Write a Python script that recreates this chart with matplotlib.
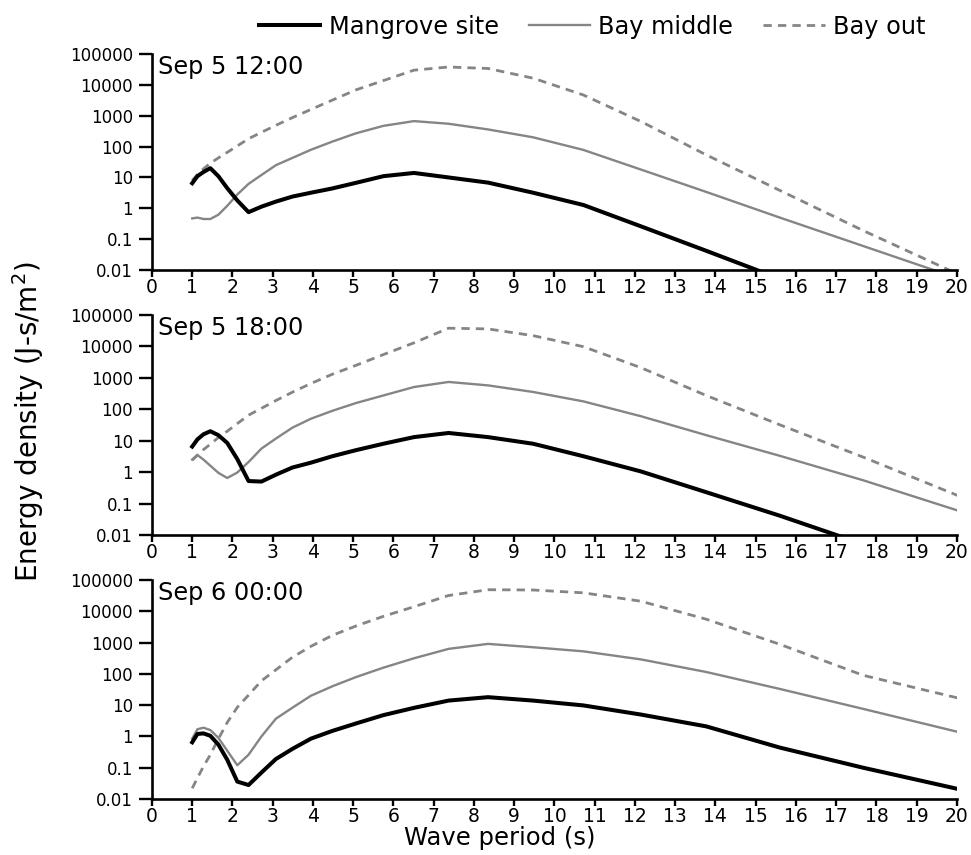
import numpy as np
import matplotlib
matplotlib.use('Agg')
import matplotlib.pyplot as plt
from matplotlib.ticker import FixedLocator, FuncFormatter, LogLocator, NullFormatter

plt.rcParams['font.family'] = ['DejaVu Sans']

# wave period grid (s)
period = [1.00, 1.13, 1.28, 1.45, 1.65, 1.87, 2.12, 2.40, 2.72, 3.08, 3.49, 3.95,
          4.48, 5.07, 5.75, 6.51, 7.37, 8.35, 9.47, 10.72, 12.15, 13.77, 15.60,
          17.67, 20.02]

titles = ['Sep 5 12:00', 'Sep 5 18:00', 'Sep 6 00:00']

# Sep 5 12:00
mangrove_1 = [6.5, 11, 15, 20, 11, 4.5, 1.8, 0.75, 1.13, 1.65, 2.4, 3.2,
              4.4, 6.7, 11, 14, 10, 6.8, 3.2, 1.28, 0.26, 0.042, 0.0052,
              0.0007, 0.0001]
middle_1 = [0.47, 0.5, 0.45, 0.45, 0.62, 1.2, 2.8, 6.2, 12, 25, 43, 79,
            145, 270, 470, 670, 550, 360, 200, 78, 18, 3.4, 0.5,
            0.06, 0.0054]
out_1 = [8, 12.5, 19, 29, 43, 65, 105, 180, 290, 490, 870, 1600,
         3200, 6900, 13800, 30000, 38000, 34000, 16500, 4700, 650, 54, 3.8,
         0.19, 0.0074]

# Sep 5 18:00
mangrove_2 = [6.5, 11, 16, 20, 15, 8.5, 2.6, 0.52, 0.5, 0.83, 1.4, 2.0,
              3.2, 5.0, 8.0, 13, 17.6, 13, 8, 3.2, 1.05, 0.23, 0.041,
              0.0051, 0.0003]
middle_2 = [2.5, 3.5, 2.5, 1.6, 0.95, 0.65, 0.97, 2.1, 5.6, 11.7, 26, 50,
            89, 158, 275, 510, 740, 575, 355, 178, 60, 15, 3.3,
            0.55, 0.06]
out_2 = [2.4, 3.5, 5.2, 7.7, 12.6, 20, 35, 65, 107, 190, 350, 660,
         1300, 2500, 5500, 13000, 38000, 36000, 22000, 9800, 2100, 275, 32,
         3.0, 0.18]

# Sep 6 00:00
mangrove_3 = [0.65, 1.2, 1.25, 1.05, 0.55, 0.18, 0.036, 0.028, 0.07, 0.19, 0.4, 0.85,
              1.5, 2.6, 4.8, 8.2, 14, 18, 14, 9.8, 5.0, 2.1, 0.44,
              0.10, 0.021]
middle_3 = [0.85, 1.7, 1.9, 1.6, 0.9, 0.35, 0.12, 0.26, 1.0, 3.7, 8.3, 20,
            40, 79, 158, 315, 630, 910, 710, 525, 290, 115, 33,
            7.6, 1.4]
out_3 = [0.022, 0.047, 0.11, 0.26, 0.83, 2.8, 8.5, 21, 60, 135, 340, 760,
         1700, 3400, 6900, 14000, 32000, 49000, 48000, 39000, 21000, 5600, 880,
         90, 17]

panels = [(mangrove_1, middle_1, out_1),
          (mangrove_2, middle_2, out_2),
          (mangrove_3, middle_3, out_3)]

ytick_vals = [0.01, 0.1, 1, 10, 100, 1000, 10000, 100000]
ytick_text = ['0.01', '0.1', '1', '10', '100', '1000', '10000', '100000']

fig = plt.figure(figsize=(9.71, 8.55), dpi=100)
boxes = [(0.1565, 0.6842, 0.829, 0.2526),
         (0.1565, 0.3743, 0.829, 0.2573),
         (0.1565, 0.0655, 0.829, 0.2561)]

grey = '#858585'
for box, title, (mg, md, bo) in zip(boxes, titles, panels):
    ax = fig.add_axes(box)
    l3, = ax.plot(period, bo, color=grey, lw=2.0, dashes=(3.0, 2.2), label='Bay out')
    l2, = ax.plot(period, md, color=grey, lw=1.7, label='Bay middle')
    l1, = ax.plot(period, mg, color='black', lw=2.9, label='Mangrove site')
    ax.set_yscale('log')
    ax.set_ylim(0.01, 100000)
    ax.set_xlim(0, 20)
    ax.yaxis.set_major_locator(FixedLocator(ytick_vals))
    ax.yaxis.set_major_formatter(FuncFormatter(lambda v, p: ytick_text[ytick_vals.index(v)] if v in ytick_vals else ''))
    ax.yaxis.set_minor_locator(LogLocator(base=10, subs=np.arange(2, 10)))
    ax.yaxis.set_minor_formatter(NullFormatter())
    ax.set_xticks(range(0, 21))
    ax.spines['top'].set_visible(False)
    ax.spines['right'].set_visible(False)
    ax.spines['left'].set_linewidth(1.9)
    ax.spines['bottom'].set_linewidth(1.9)
    ax.tick_params(axis='y', which='major', direction='out', length=9.5, width=1.7, labelsize=12, pad=4)
    ax.tick_params(axis='y', which='minor', direction='out', length=4.5, width=1.5)
    ax.tick_params(axis='x', which='major', direction='out', length=5, width=1.7, labelsize=13.5, pad=1)
    ax.text(0.008, 0.995, title, transform=ax.transAxes, ha='left', va='top', fontsize=17.3)

fig.text(0.515, 0.020, 'Wave period (s)', ha='center', va='center', fontsize=17.5)
fig.text(0.029, 0.507, 'Energy density (J-s/m$^2$)', rotation=90, ha='center', va='center', fontsize=20)

fig.legend(handles=[l1, l2, l3], loc='upper center', bbox_to_anchor=(0.610, 1.008), ncol=3,
           frameon=False, fontsize=17.3, handlelength=2.55, columnspacing=1.25, handletextpad=0.35)

fig.savefig('out.png', dpi=100)
